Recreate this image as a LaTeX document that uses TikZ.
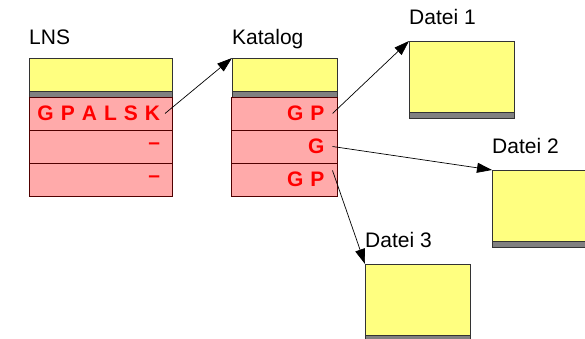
\documentclass[tikz,border=0pt]{standalone}
\usepackage{fontspec}
\setmainfont{Liberation Sans}
\usepackage{tikz}
\usetikzlibrary{positioning, arrows.meta}

\definecolor{paleyellow}{HTML}{FFFF80}
\definecolor{palered}{HTML}{FFAAAA}
\definecolor{bargray}{HTML}{808080}
\definecolor{rowline}{HTML}{500000}

\begin{document}
\begin{tikzpicture}[
                x=1pt, y=1pt,
                headbox/.style={draw=black!80, fill=paleyellow, minimum height=33pt, inner sep=0pt, outer sep=0pt}, % yellow header
                barbox/.style={draw=black!80, fill=bargray, minimum height=6pt, inner sep=0pt, outer sep=0pt}, % gray band
                rowbox/.style={draw=rowline, fill=palered, minimum height=33pt, text width=#1, align=right,
                               inner ysep=0pt, inner xsep=12pt, outer sep=0pt, text=red, font=\fontsize{21}{25}\selectfont\bfseries}, % entry row
                filebox/.style={draw=black!80, fill=paleyellow, minimum width=105pt, minimum height=71pt, inner sep=0pt, outer sep=0pt}, % file body
                title/.style={inner sep=0pt, font=\fontsize{21}{25}\selectfont}, % caption over a box
                pointer/.style={-{Triangle[length=15pt,width=10pt]}, line width=0.7pt} % link arrow
                ]
                \useasboundingbox (0,0) rectangle (585,339);

                % LNS
                \node[headbox, minimum width=143pt, anchor=north west] (lnshead) at (29,281) {};
                \node[barbox, minimum width=143pt, below=0pt of lnshead] (lnsbar) {};
                \node[rowbox=119pt, below=0pt of lnsbar] (lns1) {\makebox[119pt][r]{G\hspace{7pt}P\hspace{7pt}A\hspace{7pt}L\hspace{7pt}S\hspace{7pt}K}};
                \node[rowbox=119pt, below=0pt of lns1] (lns2) {--};
                \node[rowbox=119pt, below=0pt of lns2] (lns3) {--};
                \node[title, anchor=base west] (lnstitle) at ([yshift=13pt]lnshead.north west) {LNS};

                % Katalog
                \node[headbox, minimum width=105pt, anchor=north west] (kathead) at (232,281) {};
                \node[barbox, minimum width=105pt, below=0pt of kathead] (katbar) {};
                \node[rowbox=80pt, inner xsep=13pt, below=0pt of katbar] (kat1) {G P};
                \node[rowbox=80pt, inner xsep=13pt, below=0pt of kat1] (kat2) {G};
                \node[rowbox=80pt, inner xsep=13pt, below=0pt of kat2] (kat3) {G P};
                \node[title, anchor=base west] (kattitle) at ([yshift=13pt]kathead.north west) {Katalog};

                % Dateien
                \foreach \i/\pos in {1/{(409,298)}, 2/{(492,169)}, 3/{(365,75)}} {
                    \node[filebox, anchor=north west] (file\i) at \pos {};
                    \node[barbox, minimum width=105pt, below=0pt of file\i] (file\i bar) {};
                    \node[title, anchor=base west] (file\i title) at ([yshift=16pt]file\i.north west) {Datei \i};
                }

                \draw[pointer] ([xshift=-7pt]lns1.east) -- (kathead.north west);
                \draw[pointer] ([xshift=-5pt]kat1.east) -- (file1.north west);
                \draw[pointer] ([xshift=-5pt]kat2.east) -- (file2.north west);
                \draw[pointer] ([xshift=-5pt, yshift=9pt]kat3.east) -- (file3.north west);
            \end{tikzpicture}
\end{document}
